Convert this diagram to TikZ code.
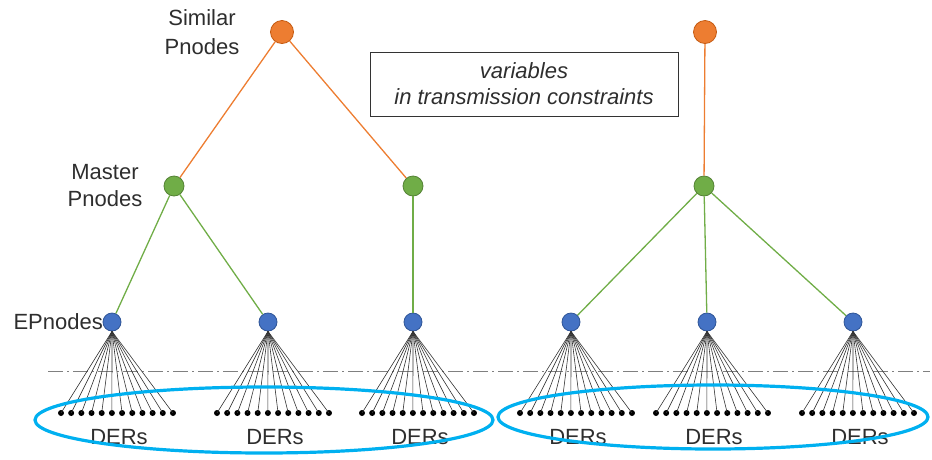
\documentclass[tikz,border=0pt]{standalone}
\usepackage{fontspec}
\setmainfont{Liberation Sans}
\definecolor{orF}{HTML}{ED7D31}
\definecolor{orD}{HTML}{C55A11}
\definecolor{grF}{HTML}{70AD47}
\definecolor{grD}{HTML}{548235}
\definecolor{blF}{HTML}{4472C4}
\definecolor{blD}{HTML}{2F5597}
\definecolor{cyanE}{HTML}{00B0F0}
\definecolor{txtC}{HTML}{2E2E2E}
\begin{document}
\begin{tikzpicture}[x=1pt,y=-1pt,
  simnode/.style={circle,fill=orF,draw=orD,line width=0.8pt,minimum size=23pt,inner sep=0pt},
  masnode/.style={circle,fill=grF,draw=grD,line width=0.8pt,minimum size=20pt,inner sep=0pt},
  epnode/.style={circle,fill=blF,draw=blD,line width=0.8pt,minimum size=18pt,inner sep=0pt},
  dernode/.style={circle,fill=black,minimum size=6pt,inner sep=0pt},
  orline/.style={draw=orF,line width=1.3pt},
  grline/.style={draw=grF,line width=1.3pt},
  fanline/.style={draw=black!80,line width=0.6pt},
  lbl/.style={font=\fontsize{22}{28}\selectfont,text=txtC,align=center,inner sep=0pt},
  ellline/.style={draw=cyanE,line width=3.2pt},
  dashline/.style={draw=black!50,line width=1pt,dash pattern=on 15pt off 4pt on 2pt off 4pt}
]
\useasboundingbox (0,0) rectangle (932,459);

% dash-dot line
\coordinate (dl) at (48,371);
\coordinate (dr) at (930,371);
\draw[dashline] (dl) -- (dr);

% upper nodes
\node[simnode] (s1) at (282,32) {};
\node[simnode] (s2) at (705,32) {};
\node[masnode] (m1) at (174,186) {};
\node[masnode] (m2) at (413,186) {};
\node[masnode] (m3) at (704,186) {};

% EP nodes, fans and DER dots
\foreach \n/\x in {1/112,2/268,3/413,4/571,5/707,6/853} {
  \node[epnode] (e\n) at (\x,322) {};
  \foreach \i in {0,...,11} {
    \node[dernode] (d\n-\i) at ({\x-51+\i*10.18},413) {};
    \draw[fanline] (e\n.south) -- (d\n-\i.center);
  }
  \node[lbl] (t\n) at ({\x+7},437) {DERs};
}

% tree connectors
\draw[orline] (s1) -- (m1);
\draw[orline] (s1) -- (m2);
\draw[orline] (s2) -- (m3);
\draw[grline] (m1) -- (e1);
\draw[grline] (m1) -- (e2);
\draw[grline] (m2) -- (e3);
\draw[grline] (m3) -- (e4);
\draw[grline] (m3) -- (e5);
\draw[grline] (m3) -- (e6);

% ellipses
\draw[ellline] (264,420) ellipse [x radius=229pt, y radius=33pt];
\draw[ellline] (713,417) ellipse [x radius=215pt, y radius=32pt];

% labels
\node[lbl,font=\fontsize{22}{29}\selectfont] (lsim) at (202,32) {Similar\\Pnodes};
\node[lbl,font=\fontsize{22}{27}\selectfont] (lmas) at (105,186) {Master\\Pnodes};
\node[lbl,anchor=east] (lep) at (103,322) {EPnodes};

% box
\node[draw=black!80,line width=1pt,minimum width=308pt,minimum height=64pt,
  font=\fontsize{22}{26}\selectfont\itshape,text=txtC,align=center,inner sep=0pt]
  (box) at (524,84) {variables\\in transmission constraints};
\end{tikzpicture}
\end{document}
